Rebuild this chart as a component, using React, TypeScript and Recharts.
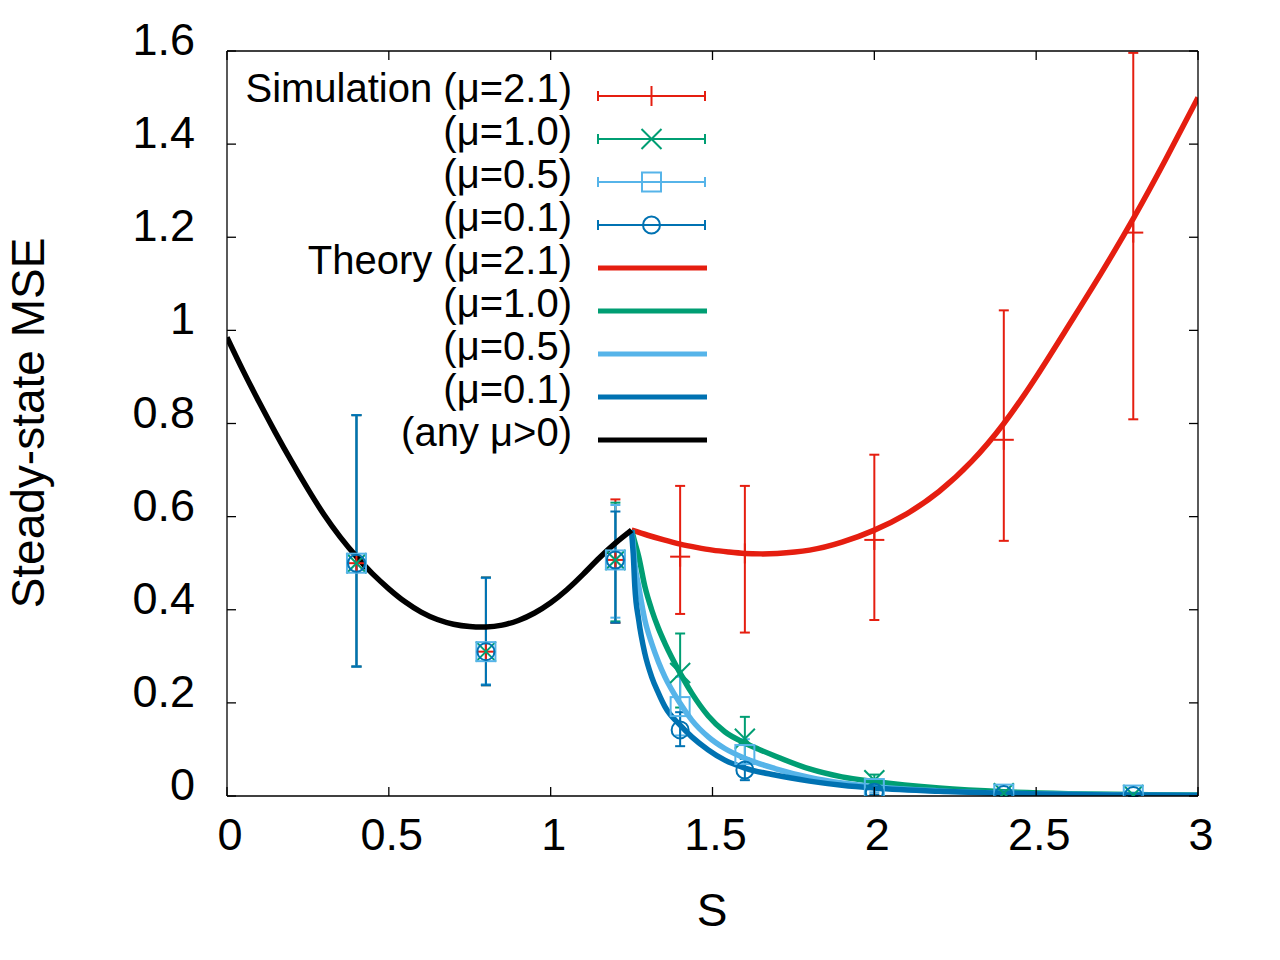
import React from 'react';
import { ComposedChart, Line, Scatter, XAxis, YAxis, ErrorBar, Customized } from 'recharts';

const FONT = '"Liberation Sans", Arial, Helvetica, sans-serif';
const RED = '#e51e10';
const GREEN = '#009e73';
const LBLUE = '#56b4e9';
const BLUE = '#0072b2';
const BLACK = '#000000';

// ---- axis ticks ----
const X_TICKS = [0, 0.5, 1, 1.5, 2, 2.5, 3];
const X_TICK_LABELS = ['0', '0.5', '1', '1.5', '2', '2.5', '3'];
const Y_TICKS = [0, 0.2, 0.4, 0.6, 0.8, 1, 1.2, 1.4, 1.6];
const Y_TICK_LABELS = ['0', '0.2', '0.4', '0.6', '0.8', '1', '1.2', '1.4', '1.6'];
const X_LABEL = 'S';
const Y_LABEL = 'Steady-state MSE';

// ---- simulation data ----
const SIM_S = [0.4, 0.8, 1.2, 1.4, 1.6, 2.0, 2.4, 2.8];

const SIM21_MEAN = [0.5, 0.31, 0.507, 0.514, 0.521, 0.55, 0.765, 1.21];
const SIM21_LOW = [0.278, 0.238, 0.372, 0.391, 0.351, 0.378, 0.548, 0.809];
const SIM21_HIGH = [0.818, 0.469, 0.637, 0.666, 0.666, 0.733, 1.043, 1.596];

const SIM10_MEAN = [0.5, 0.31, 0.507, 0.264, 0.123, 0.034, 0.006, 0.002];
const SIM10_LOW = [0.278, 0.238, 0.375, 0.19, 0.08, 0.022, 0.003, 0.001];
const SIM10_HIGH = [0.818, 0.469, 0.63, 0.349, 0.17, 0.046, 0.01, 0.004];

const SIM05_MEAN = [0.5, 0.31, 0.507, 0.192, 0.089, 0.016, 0.004, 0.002];
const SIM05_LOW = [0.278, 0.24, 0.383, 0.13, 0.06, 0.008, 0.002, 0.001];
const SIM05_HIGH = [0.818, 0.468, 0.625, 0.256, 0.122, 0.025, 0.007, 0.003];

const SIM01_MEAN = [0.5, 0.31, 0.507, 0.142, 0.056, 0.008, 0.003, 0.001];
const SIM01_LOW = [0.278, 0.238, 0.372, 0.107, 0.034, 0.003, 0.001, 0.0];
const SIM01_HIGH = [0.818, 0.469, 0.611, 0.18, 0.08, 0.015, 0.006, 0.002];

// ---- theory curves ----
const TH_ANY_S = [0, 0.05, 0.1, 0.15, 0.2, 0.25, 0.3, 0.35, 0.4, 0.45, 0.5, 0.55, 0.6, 0.65, 0.7, 0.75, 0.8, 0.85, 0.9, 0.95, 1.0, 1.05, 1.1, 1.15, 1.2, 1.25];
const TH_ANY_V = [0.985, 0.913, 0.845, 0.78, 0.718, 0.659, 0.604, 0.556, 0.514, 0.477, 0.445, 0.417, 0.395, 0.379, 0.369, 0.364, 0.363, 0.367, 0.377, 0.393, 0.415, 0.443, 0.476, 0.511, 0.543, 0.571];

const TH21_S = [1.25, 1.3, 1.35, 1.4, 1.45, 1.5, 1.55, 1.6, 1.65, 1.7, 1.8, 1.9, 2.0, 2.1, 2.2, 2.3, 2.4, 2.5, 2.6, 2.7, 2.8, 2.9, 3.0];
const TH21_V = [0.571, 0.56, 0.55, 0.541, 0.534, 0.528, 0.524, 0.521, 0.52, 0.521, 0.528, 0.545, 0.571, 0.606, 0.654, 0.718, 0.8, 0.9, 1.01, 1.122, 1.24, 1.367, 1.5];

const TH10_S = [1.25, 1.26, 1.272, 1.291, 1.312, 1.333, 1.353, 1.4, 1.436, 1.487, 1.538, 1.6, 1.641, 1.693, 1.8, 1.9, 2.0, 2.2, 2.4, 2.6, 2.8, 3.0];
const TH10_V = [0.571, 0.545, 0.514, 0.45, 0.4, 0.36, 0.328, 0.264, 0.221, 0.172, 0.138, 0.114, 0.101, 0.086, 0.058, 0.041, 0.031, 0.017, 0.009, 0.005, 0.003, 0.002];

const TH05_S = [1.25, 1.255, 1.26, 1.272, 1.291, 1.312, 1.333, 1.353, 1.4, 1.436, 1.487, 1.538, 1.6, 1.693, 1.8, 1.9, 2.0, 2.2, 2.4, 2.6, 2.8, 3.0];
const TH05_V = [0.571, 0.54, 0.5, 0.45, 0.378, 0.328, 0.288, 0.256, 0.199, 0.163, 0.127, 0.102, 0.081, 0.059, 0.04, 0.028, 0.02, 0.011, 0.006, 0.004, 0.002, 0.001];

const TH01_S = [1.25, 1.253, 1.255, 1.26, 1.272, 1.291, 1.312, 1.333, 1.353, 1.4, 1.436, 1.487, 1.538, 1.6, 1.693, 1.8, 1.9, 2.0, 2.2, 2.4, 2.6, 2.8, 3.0];
const TH01_V = [0.571, 0.54, 0.521, 0.45, 0.378, 0.306, 0.256, 0.221, 0.192, 0.152, 0.127, 0.099, 0.077, 0.06, 0.045, 0.032, 0.023, 0.017, 0.01, 0.006, 0.003, 0.002, 0.001];

// ---- legend ----
const LEGEND_LABELS = ['Simulation (\u03bc=2.1)', '(\u03bc=1.0)', '(\u03bc=0.5)', '(\u03bc=0.1)', 'Theory (\u03bc=2.1)', '(\u03bc=1.0)', '(\u03bc=0.5)', '(\u03bc=0.1)', '(any \u03bc>0)'];
const LEGEND_COLORS = [RED, GREEN, LBLUE, BLUE, RED, GREEN, LBLUE, BLUE, BLACK];
const LEGEND_MARKERS = ['plus', 'cross', 'square', 'circle', '', '', '', '', ''];

const simRows = (mean: number[], low: number[], high: number[]) =>
  SIM_S.map((x, i) => ({ x, y: mean[i], err: [mean[i] - low[i], high[i] - mean[i]] }));
const curveRows = (s: number[], v: number[]) => s.map((x, i) => ({ x, y: v[i] }));

const sim21 = simRows(SIM21_MEAN, SIM21_LOW, SIM21_HIGH);
const sim10 = simRows(SIM10_MEAN, SIM10_LOW, SIM10_HIGH);
const sim05 = simRows(SIM05_MEAN, SIM05_LOW, SIM05_HIGH);
const sim01 = simRows(SIM01_MEAN, SIM01_LOW, SIM01_HIGH);
const thAny = curveRows(TH_ANY_S, TH_ANY_V);
const th21 = curveRows(TH21_S, TH21_V);
const th10 = curveRows(TH10_S, TH10_V);
const th05 = curveRows(TH05_S, TH05_V);
const th01 = curveRows(TH01_S, TH01_V);

function Marker({ kind, cx, cy, color }: { kind: string; cx: number; cy: number; color: string }) {
  const sw = 2;
  if (kind === 'plus') {
    return (
      <g stroke={color} strokeWidth={sw}>
        <line x1={cx - 10} y1={cy} x2={cx + 10} y2={cy} />
        <line x1={cx} y1={cy - 10} x2={cx} y2={cy + 10} />
      </g>
    );
  }
  if (kind === 'cross') {
    return (
      <g stroke={color} strokeWidth={sw}>
        <line x1={cx - 10} y1={cy - 10} x2={cx + 10} y2={cy + 10} />
        <line x1={cx - 10} y1={cy + 10} x2={cx + 10} y2={cy - 10} />
      </g>
    );
  }
  if (kind === 'square') {
    return <rect x={cx - 9.5} y={cy - 9.5} width={19} height={19} fill="none" stroke={color} strokeWidth={sw} />;
  }
  return <circle cx={cx} cy={cy} r={8.5} fill="none" stroke={color} strokeWidth={sw} />;
}

const shapeOf = (kind: string, color: string) => (p: any) => <Marker kind={kind} cx={p.cx} cy={p.cy} color={color} />;

const AX = 1.3;
const TICK_LEN = 9;

function XBottomTick(p: any) {
  const { x, y, index } = p;
  return (
    <g>
      <line x1={x} y1={y} x2={x} y2={y - TICK_LEN} stroke={BLACK} strokeWidth={AX} />
      <text x={x + 3} y={y + 54} textAnchor="middle" fontSize={45} fontFamily={FONT} fill={BLACK}>
        {X_TICK_LABELS[index]}
      </text>
    </g>
  );
}
function XTopTick(p: any) {
  const { x, y } = p;
  return <line x1={x} y1={y} x2={x} y2={y + TICK_LEN} stroke={BLACK} strokeWidth={AX} />;
}
function YLeftTick(p: any) {
  const { x, y, index } = p;
  return (
    <g>
      <line x1={x} y1={y} x2={x + TICK_LEN} y2={y} stroke={BLACK} strokeWidth={AX} />
      <text x={x - 32} y={y + 4} textAnchor="end" fontSize={45} fontFamily={FONT} fill={BLACK}>
        {Y_TICK_LABELS[index]}
      </text>
    </g>
  );
}
function YRightTick(p: any) {
  const { x, y } = p;
  return <line x1={x} y1={y} x2={x - TICK_LEN} y2={y} stroke={BLACK} strokeWidth={AX} />;
}

const LEG_TEXT_X = 572;
const LEG_X1 = 598;
const LEG_X2 = 705;
const LEG_Y0 = 96;
const LEG_DY = 43;

function Decorations() {
  return (
    <g fontFamily={FONT}>
      <text x={712} y={926} textAnchor="middle" fontSize={46} fill={BLACK}>{X_LABEL}</text>
      <text x={44} y={423} transform="rotate(-90 44 423)" textAnchor="middle" fontSize={46} fill={BLACK}>{Y_LABEL}</text>
      {LEGEND_LABELS.map((lab, i) => {
        const y = LEG_Y0 + i * LEG_DY;
        const c = LEGEND_COLORS[i];
        const m = LEGEND_MARKERS[i];
        return (
          <g key={i}>
            <text x={LEG_TEXT_X} y={y + 6} textAnchor="end" fontSize={40} fill={BLACK}>{lab}</text>
            {m ? (
              <g stroke={c} strokeWidth={2}>
                <line x1={LEG_X1} y1={y} x2={LEG_X2} y2={y} />
                <line x1={LEG_X1} y1={y - 5} x2={LEG_X1} y2={y + 5} />
                <line x1={LEG_X2} y1={y - 5} x2={LEG_X2} y2={y + 5} />
                <Marker kind={m} cx={(LEG_X1 + LEG_X2) / 2} cy={y} color={c} />
              </g>
            ) : (
              <line x1={LEG_X1} y1={y} x2={LEG_X2 + 2} y2={y} stroke={c} strokeWidth={5} />
            )}
          </g>
        );
      })}
    </g>
  );
}

export default function App() {
  const sims = [
    { d: sim21, c: RED, m: 'plus' },
    { d: sim10, c: GREEN, m: 'cross' },
    { d: sim05, c: LBLUE, m: 'square' },
    { d: sim01, c: BLUE, m: 'circle' },
  ];
  const lines = [
    { d: th21, c: RED, t: 'natural' },
    { d: th10, c: GREEN, t: 'monotone' },
    { d: th05, c: LBLUE, t: 'monotone' },
    { d: th01, c: BLUE, t: 'monotone' },
    { d: thAny, c: BLACK, t: 'natural' },
  ];
  return (
    <div style={{ position: 'absolute', left: 0, top: 0, width: 1280, height: 960, background: '#fff' }}>
      <ComposedChart width={1280} height={960} margin={{ top: 50, right: 81, bottom: 0, left: 0 }}>
        <XAxis xAxisId={0} dataKey="x" type="number" domain={[0, 3]} ticks={X_TICKS} allowDataOverflow
          height={164} tickSize={0} tickMargin={0} tickLine={false} tick={<XBottomTick />}
          axisLine={{ stroke: BLACK, strokeWidth: AX }} interval={0} />
        <XAxis xAxisId="top" orientation="top" dataKey="x" type="number" domain={[0, 3]} ticks={X_TICKS} allowDataOverflow
          height={1} tickSize={0} tickMargin={0} tickLine={false} tick={<XTopTick />}
          axisLine={{ stroke: BLACK, strokeWidth: AX }} interval={0} />
        <YAxis yAxisId={0} dataKey="y" type="number" domain={[0, 1.6]} ticks={Y_TICKS} allowDataOverflow
          width={227} tickSize={0} tickMargin={0} tickLine={false} tick={<YLeftTick />}
          axisLine={{ stroke: BLACK, strokeWidth: AX }} interval={0} />
        <YAxis yAxisId="right" orientation="right" dataKey="y" type="number" domain={[0, 1.6]} ticks={Y_TICKS} allowDataOverflow
          width={1} tickSize={0} tickMargin={0} tickLine={false} tick={<YRightTick />}
          axisLine={{ stroke: BLACK, strokeWidth: AX }} interval={0} />
        {sims.map((s, i) => (
          <Scatter key={'s' + i} data={s.d} xAxisId={0} yAxisId={0} isAnimationActive={false} shape={shapeOf(s.m, s.c)}>
            <ErrorBar dataKey="err" direction="y" width={5} stroke={s.c} strokeWidth={2} isAnimationActive={false} />
          </Scatter>
        ))}
        {lines.map((l, i) => (
          <Line key={'l' + i} data={l.d} dataKey="y" xAxisId={0} yAxisId={0} type={l.t as any} stroke={l.c}
            strokeWidth={5.5} dot={false} activeDot={false} isAnimationActive={false} />
        ))}
        <Customized component={Decorations} />
      </ComposedChart>
    </div>
  );
}
